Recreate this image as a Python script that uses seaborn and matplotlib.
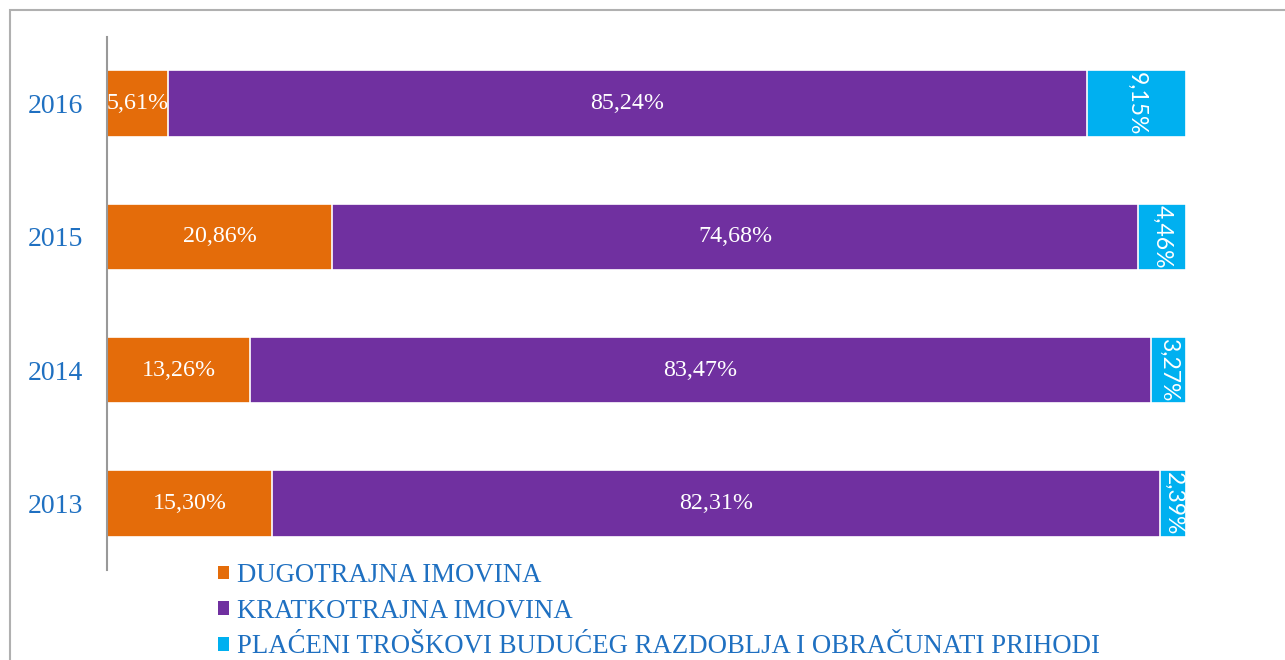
import matplotlib
matplotlib.use("Agg")
import matplotlib.pyplot as plt
import seaborn as sns
import pandas as pd
import numpy as np
from matplotlib.patches import Patch, Rectangle

years = ["2016", "2015", "2014", "2013"]
dugotrajna = [5.61, 20.86, 13.26, 15.30]
kratkotrajna = [85.24, 74.68, 83.47, 82.31]
placeni = [9.15, 4.46, 3.27, 2.39]
series_names = ["DUGOTRAJNA IMOVINA", "KRATKOTRAJNA IMOVINA",
                "PLAĆENI TROŠKOVI BUDUĆEG RAZDOBLJA I OBRAČUNATI PRIHODI"]
colors = ["#E46C0A", "#7030A0", "#00B0F0"]
text_blue = "#1F70C1"

sns.set_theme(style="white")
plt.rcParams["font.family"] = ["Liberation Serif", "DejaVu Serif"]

df = pd.DataFrame({"year": years, "d": dugotrajna, "k": kratkotrajna, "p": placeni})
df["c1"] = df["d"]
df["c2"] = df["d"] + df["k"]
df["c3"] = df["d"] + df["k"] + df["p"]

fig = plt.figure(figsize=(12.85, 6.6), dpi=100)
ax = fig.add_axes([107/1285, 1 - 570/660, (1186-107)/1285, (570-37)/660])

for col, c in zip(["c3", "c2", "c1"], colors[::-1]):
    sns.barplot(data=df, x=col, y="year", order=years, orient="h", color=c,
                saturation=1, width=0.5, edgecolor="white", linewidth=1.2, ax=ax)

ax.set_xlim(0, 100)
ax.set_ylim(3.5, -0.5)
ax.set_xlabel("")
ax.set_ylabel("")
ax.set_xticks([])
ax.tick_params(axis="y", length=0, pad=17, labelsize=20, labelcolor=text_blue)
for s in ["top", "right", "bottom"]:
    ax.spines[s].set_visible(False)
ax.spines["left"].set_color("#999999")
ax.spines["left"].set_linewidth(1.5)

for i in range(len(years)):
    d, k, p = dugotrajna[i], kratkotrajna[i], placeni[i]
    ax.text(d / 2, i, f"{d:.2f}%".replace(".", ","), ha="center", va="center",
            color="white", fontsize=17.3)
    ax.text(d + k / 2, i, f"{k:.2f}%".replace(".", ","), ha="center", va="center",
            color="white", fontsize=17.3)
    ax.text(d + k + p / 2, i, f"{p:.2f}%".replace(".", ","), ha="center", va="center",
            color="white", fontsize=16.5, rotation=270, family=["Lato", "DejaVu Sans"])

handles = [Patch(facecolor=c, edgecolor="none") for c in colors]
leg = fig.legend(handles, series_names, loc="upper left",
                 bbox_to_anchor=(218/1285, 1 - 563/660), frameon=False,
                 fontsize=19.3, handlelength=0.4, handleheight=0.4,
                 handletextpad=0.32, labelspacing=0.4, borderaxespad=0, borderpad=0)
for t in leg.get_texts():
    t.set_color(text_blue)

fig.patches.append(Rectangle((10/1285, -0.1), 1.2, 1 - 10/660 + 0.1,
                             transform=fig.transFigure, fill=False,
                             edgecolor="#B0B0B0", linewidth=1.5, zorder=-1))

fig.savefig("out.png", dpi=100)
